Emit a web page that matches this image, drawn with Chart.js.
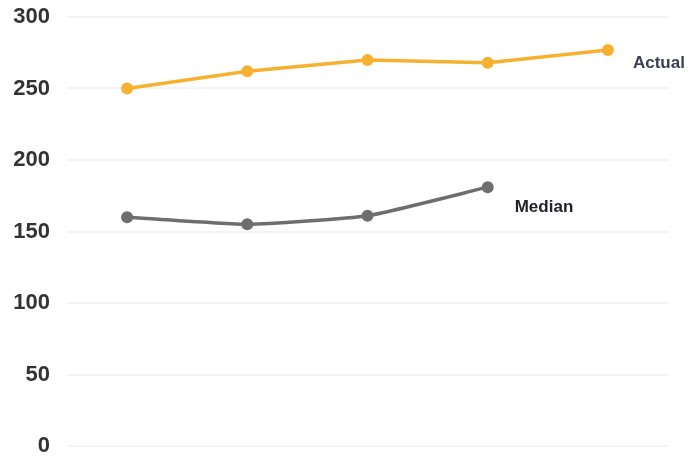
<!DOCTYPE html>
<html>
<head>
<meta charset="utf-8">
<script src="https://cdn.jsdelivr.net/npm/chart.js@4.4.1/dist/chart.umd.min.js"></script>
<style>
    html, body { margin: 0; padding: 0; background: #fff; }
    #wrap { width: 692px; height: 456px; }
</style>
</head>
<body>
<div id="wrap"><canvas id="chart"></canvas></div>
<script>
// Series values per period
const periods = ['1', '2', '3', '4', '5'];
const actualValues = [250, 262, 270, 268, 277];
const medianValues = [160, 155, 161, 181, null];
const yTicks = [0, 50, 100, 150, 200, 250, 300];

// Writes the series name next to its last point
const endLabels = {
    id: 'endLabels',
    afterDatasetsDraw(chart) {
        const ctx = chart.ctx;
        chart.data.datasets.forEach((ds, i) => {
            const meta = chart.getDatasetMeta(i);
            let last = -1;
            ds.data.forEach((v, j) => { if (v !== null) last = j; });
            const pt = meta.data[last];
            if (!pt) return;
            ctx.save();
            ctx.font = 'bold 17px "Liberation Sans", Arial, sans-serif';
            ctx.fillStyle = ds.labelColor;
            ctx.textBaseline = 'middle';
            ctx.fillText(ds.label, pt.x + ds.labelDx, pt.y + ds.labelDy);
            ctx.restore();
        });
    }
};

new Chart(document.getElementById('chart'), {
    type: 'line',
    data: {
        labels: periods,
        datasets: [{
            label: 'Actual',
            data: actualValues,
            borderColor: '#f6b130',
            backgroundColor: '#f6b130',
            borderWidth: 3.5,
            pointRadius: 6,
            pointBorderWidth: 0,
            tension: 0,
            labelColor: '#3a3f52',
            labelDx: 25,
            labelDy: 13
        }, {
            label: 'Median',
            data: medianValues,
            borderColor: '#6e6e70',
            backgroundColor: '#6e6e70',
            borderWidth: 3.5,
            pointRadius: 6,
            pointBorderWidth: 0,
            tension: 0.15,
            labelColor: '#222228',
            labelDx: 27,
            labelDy: 20
        }]
    },
    options: {
        responsive: true,
        maintainAspectRatio: false,
        animation: false,
        layout: { padding: { left: 10, right: 24, top: 17, bottom: 10 } },
        plugins: {
            legend: { display: false },
            tooltip: { enabled: false }
        },
        scales: {
            x: {
                display: false,
                offset: true
            },
            y: {
                min: 0,
                max: 300,
                afterFit: (scale) => {
                    scale.width = 57;
                    scale.paddingTop = 0;
                    scale.paddingBottom = 0;
                },
                afterBuildTicks: (scale) => { scale.ticks = yTicks.map(v => ({ value: v })); },
                border: { display: false },
                grid: { color: '#f4f4f4', lineWidth: 2, drawTicks: false },
                ticks: {
                    padding: 17,
                    color: '#333333',
                    font: { family: '"Liberation Sans", Arial, sans-serif', size: 22, weight: 'bold' }
                }
            }
        }
    },
    plugins: [endLabels]
});
</script>
</body>
</html>
